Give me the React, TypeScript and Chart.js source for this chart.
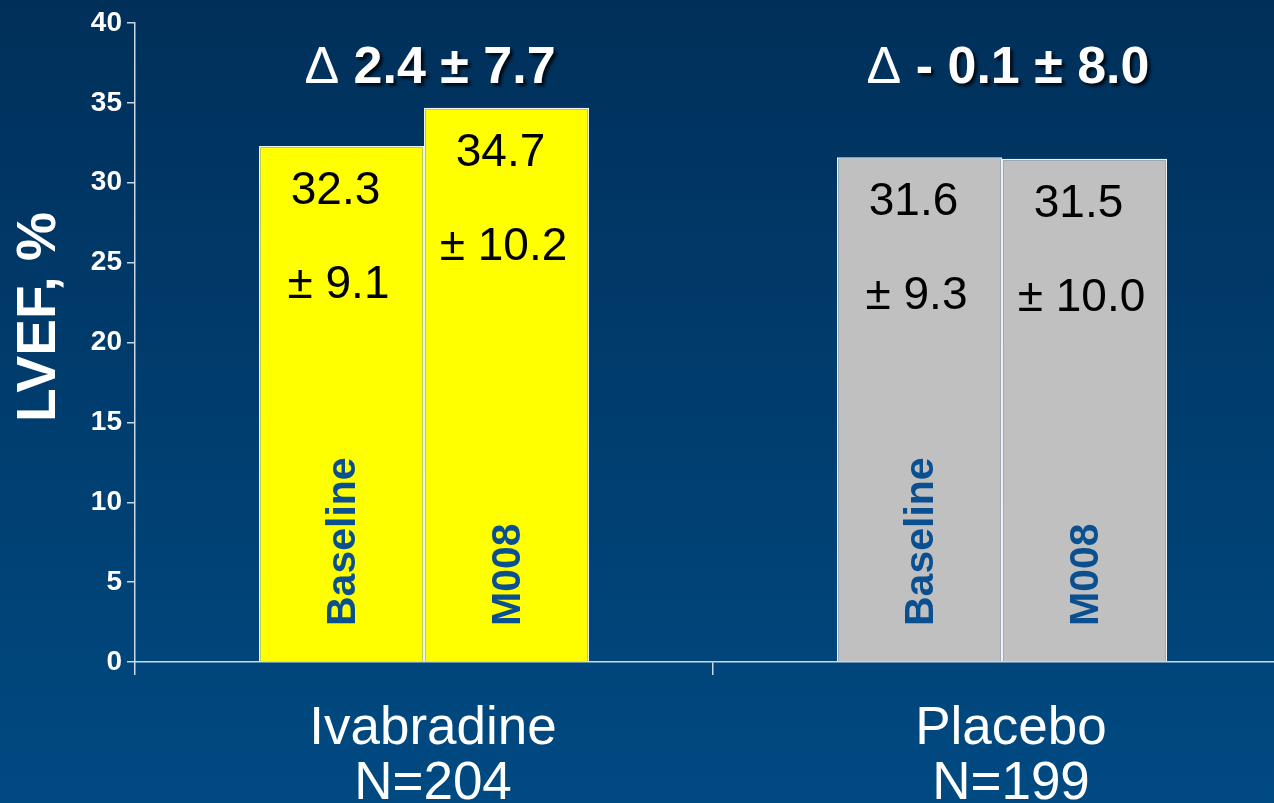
import { useEffect, useRef } from 'react';
import { Chart, registerables } from 'chart.js';

Chart.register(...registerables);

// Treatment groups and sample sizes
const groups = ['Ivabradine', 'Placebo'];
const groupSizes = ['N=204', 'N=199'];
// Visits shown as the two bars of each group
const visits = ['Baseline', 'M008'];
// LVEF (%) mean and SD per group at each visit
const baselineMeans = [32.3, 31.6];
const m008Means = [34.7, 31.5];
const baselineSDs = [9.1, 9.3];
const m008SDs = [10.2, 10.0];
// Mean change from baseline ± SD, written above each group
const changeLabels = ['2.4 ± 7.7', '- 0.1 ± 8.0'];
// Y axis range
const yMin = 0;
const yMax = 40;
const yStep = 5;

const FONT = '"Liberation Sans", Arial, Helvetica, sans-serif';
const GROUP_COLORS = ['#ffff00', '#c0c0c0'];
const AXIS_COLOR = 'rgba(225,233,242,0.9)';
const VISIT_TEXT = '#0a4f8f';

const annotationPlugin = {
  id: 'lvefAnnotations',
  afterDatasetsDraw(chart: any) {
    const ctx: CanvasRenderingContext2D = chart.ctx;
    const yScale = chart.scales.y;
    const xScale = chart.scales.x;
    const zeroY = yScale.getPixelForValue(0);
    const means = [baselineMeans, m008Means];
    const sds = [baselineSDs, m008SDs];

    ctx.save();
    // values inside bars and rotated visit names
    chart.data.datasets.forEach((ds: any, di: number) => {
      const meta = chart.getDatasetMeta(di);
      meta.data.forEach((bar: any, gi: number) => {
        const { x, y } = bar.getProps(['x', 'y'], true);
        ctx.fillStyle = '#000';
        ctx.font = `46px ${FONT}`;
        ctx.textAlign = 'center';
        ctx.textBaseline = 'alphabetic';
        ctx.fillText(means[di][gi].toFixed(1), x - 6, y + 58);
        ctx.fillText('± ' + sds[di][gi].toFixed(1), x - 3, y + 152);

        ctx.save();
        ctx.translate(x, zeroY - 36);
        ctx.rotate(-Math.PI / 2);
        ctx.font = `bold 41px ${FONT}`;
        ctx.fillStyle = VISIT_TEXT;
        ctx.textAlign = 'left';
        ctx.textBaseline = 'middle';
        ctx.fillText(ds.label, 0, 2);
        ctx.restore();
      });
    });

    // change from baseline above each group
    groups.forEach((_, gi) => {
      const cx = xScale.getPixelForValue(gi) + 6;
      const baseY = yScale.getPixelForValue(yMax) + 60;
      ctx.font = `52px ${FONT}`;
      const wDelta = ctx.measureText('Δ').width;
      const rest = ' ' + changeLabels[gi];
      ctx.font = `bold 52px ${FONT}`;
      const wRest = ctx.measureText(rest).width;
      const sx = cx - (wDelta + wRest) / 2;
      ctx.textAlign = 'left';
      ctx.textBaseline = 'alphabetic';
      ctx.fillStyle = '#fff';
      ctx.font = `52px ${FONT}`;
      ctx.fillText('Δ', sx, baseY);
      ctx.save();
      ctx.shadowColor = 'rgba(0,0,0,0.75)';
      ctx.shadowOffsetX = 3;
      ctx.shadowOffsetY = 3;
      ctx.shadowBlur = 3;
      ctx.font = `bold 52px ${FONT}`;
      ctx.fillText(rest, sx + wDelta, baseY);
      ctx.restore();
    });

    // y axis title
    ctx.save();
    ctx.translate(39.5, 317);
    ctx.rotate(-Math.PI / 2);
    ctx.font = `bold 55px ${FONT}`;
    ctx.fillStyle = '#fff';
    ctx.textAlign = 'center';
    ctx.textBaseline = 'middle';
    ctx.fillText('LVEF, %', 0, 0);
    ctx.restore();

    ctx.restore();
  },
};

export default function App() {
  const canvasRef = useRef<HTMLCanvasElement | null>(null);

  useEffect(() => {
    const canvas = canvasRef.current;
    if (!canvas) return;
    const chart = new Chart(canvas, {
      type: 'bar',
      data: {
        labels: groups.map((g, i) => [g, groupSizes[i]]),
        datasets: visits.map((v, vi) => ({
          label: v,
          data: vi === 0 ? baselineMeans : m008Means,
          backgroundColor: GROUP_COLORS,
          borderColor: '#eef2f6',
          borderWidth: { top: 1.5, left: 1.5, right: 1.5, bottom: 0 },
          categoryPercentage: 0.571,
          barPercentage: 1,
        })),
      },
      options: {
        responsive: false,
        animation: false,
        devicePixelRatio: 1,
        layout: { padding: { top: 23, right: 1, left: 0, bottom: 0 } },
        plugins: {
          legend: { display: false },
          tooltip: { enabled: false },
        },
        scales: {
          x: {
            grid: {
              display: true,
              drawOnChartArea: false,
              drawTicks: true,
              tickLength: 13,
              color: AXIS_COLOR,
              lineWidth: 1.5,
              offset: true,
            },
            border: { display: true, color: AXIS_COLOR, width: 1.5 },
            ticks: {
              color: '#ffffff',
              font: { family: FONT, size: 53, lineHeight: 55 / 53 },
              padding: 27,
              labelOffset: 9,
              maxRotation: 0,
              autoSkip: false,
            },
            afterFit: (s: any) => {
              s.height = 141;
            },
          },
          y: {
            min: yMin,
            max: yMax,
            grid: {
              drawOnChartArea: false,
              drawTicks: true,
              tickLength: 8,
              color: AXIS_COLOR,
              lineWidth: 1.5,
            },
            border: { display: true, color: AXIS_COLOR, width: 1.5 },
            ticks: {
              stepSize: yStep,
              color: '#ffffff',
              font: { family: FONT, size: 28, weight: 'bold' },
              padding: 5,
            },
            afterFit: (s: any) => {
              s.width = 135;
            },
          },
        },
      },
      plugins: [annotationPlugin],
    } as any);
    return () => chart.destroy();
  }, []);

  return (
    <div
      style={{
        position: 'fixed',
        left: 0,
        top: 0,
        width: 1274,
        height: 803,
        overflow: 'hidden',
        background: 'linear-gradient(to bottom, #00305a 0%, #004a82 100%)',
      }}
    >
      <canvas ref={canvasRef} width={1292} height={803} style={{ display: 'block' }} />
    </div>
  );
}
